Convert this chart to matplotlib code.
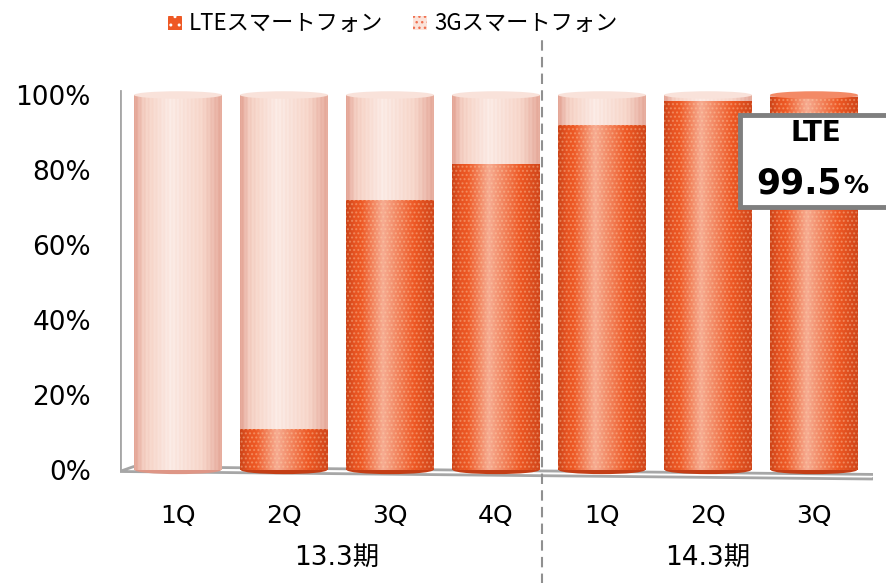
import numpy as np
import matplotlib.pyplot as plt
from matplotlib.patches import Rectangle, Ellipse, Polygon
from matplotlib.lines import Line2D
from matplotlib.transforms import blended_transform_factory

# data (share of smartphone sales, %)
quarters = ["1Q", "2Q", "3Q", "4Q", "1Q", "2Q", "3Q"]
periods = ["13.3期", "14.3期"]
period_span = [(0, 3), (4, 6)]
lte = [0.0, 11.0, 72.0, 81.5, 92.0, 98.5, 99.5]
g3 = [100.0 - v for v in lte]
series_names = ["LTEスマートフォン", "3Gスマートフォン"]

LTE_COLOR = np.array([238, 88, 36]) / 255
LTE_DARK = np.array([196, 62, 22]) / 255
G3_COLOR = np.array([247, 214, 202]) / 255
G3_DARK = np.array([222, 150, 134]) / 255
JP = ["Noto Sans CJK JP", "DejaVu Sans"]


def cylinder(rgb, dark, stripes=False, n=90):
    t = np.linspace(0, 1, n)
    prof = np.interp(t, [0, 0.1, 0.42, 0.78, 1], [-0.8, -0.15, 0.5, 0.0, -0.7])
    if stripes:
        prof = prof + np.where((np.arange(n) // 2) % 2 == 0, 0.06, -0.06)
    out = np.empty((1, n, 3))
    for i, p in enumerate(prof):
        if p >= 0:
            out[0, i] = rgb + (1 - rgb) * p
        else:
            out[0, i] = rgb + (dark - rgb) * (-p)
    return np.clip(out, 0, 1)


fig = plt.figure(figsize=(8.87, 5.83), dpi=100)
ax = fig.add_axes([120 / 887, 0.1681, 753 / 887, 0.6818])
x = np.arange(len(quarters))
w = 0.83
ax.set_xlim(-0.547, 6.557)
ax.set_ylim(-4, 102)

# floor and back wall
ax.add_patch(Polygon([(-0.55, -0.4), (-0.42, 0.9), (6.62, -1.2), (6.55, -2.4)],
                     closed=True, facecolor="white", edgecolor="#A6A6A6", lw=2, zorder=1))
ax.plot([-0.55, -0.55], [0, 101], color="#A6A6A6", lw=2, zorder=1)

img_lte = cylinder(LTE_COLOR, LTE_DARK)
img_g3 = cylinder(G3_COLOR, G3_DARK, stripes=True)

for i in range(len(x)):
    segs = [(0, lte[i], img_lte, LTE_COLOR), (lte[i], g3[i], img_g3, G3_COLOR)]
    # rounded bottom
    bottom_c = LTE_DARK if lte[i] > 0 else G3_DARK
    ax.add_patch(Ellipse((x[i], 0), w * 0.98, 2.2, facecolor=bottom_c, zorder=2))
    for base, h, img, col in segs:
        if h <= 0:
            continue
        bar = ax.bar(x[i], h, w, bottom=base, color=col, zorder=3)[0]
        im = ax.imshow(img, extent=(x[i] - w / 2, x[i] + w / 2, base, base + h),
                       aspect="auto", zorder=3.5, interpolation="bilinear")
        im.set_clip_path(bar)
        if img is img_lte:
            ax.bar(x[i], h, w, bottom=base, facecolor="none", hatch="....",
                   edgecolor=(1, 0.85, 0.7, 0.35), lw=0, zorder=3.6)
    top_c = G3_COLOR if g3[i] >= 1 else LTE_COLOR
    ax.add_patch(Ellipse((x[i], lte[i] + g3[i]), w, 2.0,
                         facecolor=top_c + (1 - top_c) * 0.3, edgecolor="none", zorder=4))

for s in ax.spines.values():
    s.set_visible(False)

ax.set_yticks([0, 20, 40, 60, 80, 100])
ax.set_yticklabels([f"{v}%" for v in [0, 20, 40, 60, 80, 100]], fontsize=19)
ax.set_xticks(x)
ax.set_xticklabels(quarters, fontsize=18)
ax.tick_params(axis="y", length=0, pad=21)
ax.tick_params(axis="x", length=0, pad=14)

# period labels
tr = blended_transform_factory(ax.transData, fig.transFigure)
for name, (a, b) in zip(periods, period_span):
    ax.text((a + b) / 2, 1 - 558 / 583, name, transform=tr, ha="center", va="center",
            fontsize=19, family=["DejaVu Sans", "Noto Sans CJK JP"])
fig.add_artist(Line2D([3.43, 3.43], [-0.01, 1 - 40 / 583], transform=tr, color="#909090",
                      lw=1.5, ls=(0, (5, 3))))

# legend
leg_x = [168, 413]
leg_txt = [189, 434]
for j, name in enumerate(series_names):
    if j == 0:
        fig.add_artist(Rectangle((leg_x[j] / 887, 1 - 30 / 583), 14 / 887, 14 / 583,
                                 transform=fig.transFigure, facecolor=LTE_COLOR,
                                 hatch="..", edgecolor="white", lw=0))
    else:
        fig.add_artist(Rectangle((leg_x[j] / 887, 1 - 30 / 583), 14 / 887, 14 / 583,
                                 transform=fig.transFigure, facecolor="#FBE3DA",
                                 hatch="...", edgecolor="#F07050", lw=0))
    fig.text(leg_txt[j] / 887, 1 - 23 / 583, name, ha="left", va="center",
             fontsize=16, family=JP)

# LTE callout box
fig.add_artist(Rectangle((740 / 887, 1 - 207 / 583), 160 / 887, 92 / 583,
                         transform=fig.transFigure, facecolor="white",
                         edgecolor="#7F7F7F", lw=3.5, zorder=10))
fig.text(816 / 887, 1 - 141 / 583, "LTE", ha="center", va="baseline",
         fontsize=20, fontweight="bold", zorder=11)
fig.text(842 / 887, 1 - 193 / 583, f"{lte[-1]}", ha="right", va="baseline",
         fontsize=25, fontweight="bold", zorder=11)
fig.text(843 / 887, 1 - 193 / 583, "%", ha="left", va="baseline",
         fontsize=18, fontweight="bold", zorder=11)

fig.savefig("out.png", dpi=100)
